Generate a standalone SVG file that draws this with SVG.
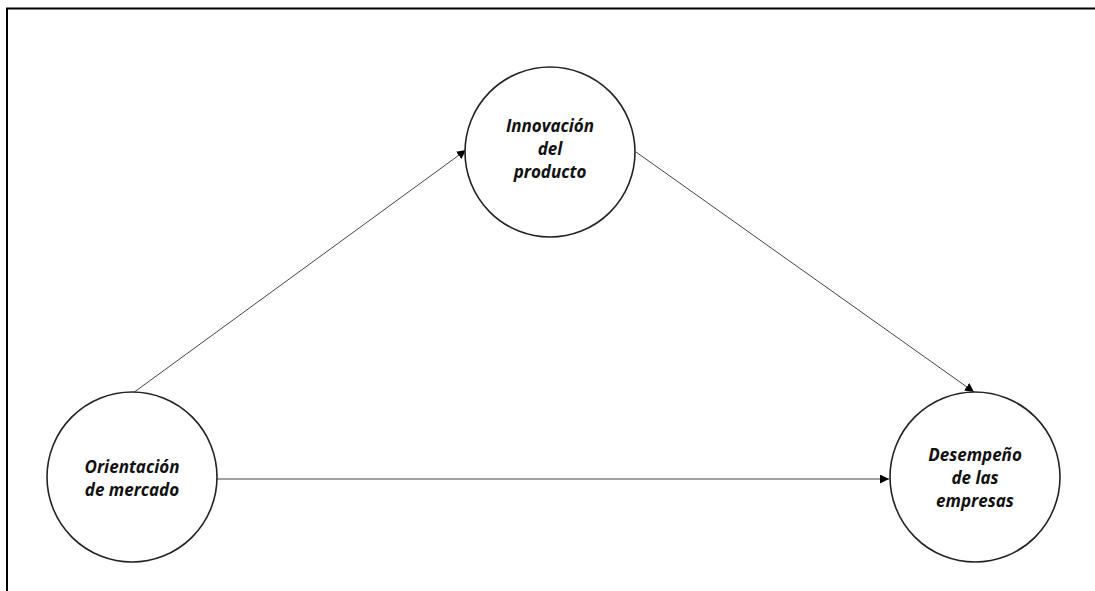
<svg xmlns="http://www.w3.org/2000/svg" width="1095" height="591" viewBox="0 0 1095 591">
  <defs>
    <marker id="arrow" viewBox="0 0 10 10" refX="10" refY="5" markerWidth="9" markerHeight="9" markerUnits="userSpaceOnUse" orient="auto">
      <path d="M0,0 L10,5 L0,10 z" fill="#000"/>
    </marker>
    <style>
      .frame { stroke: #000; stroke-width: 2; fill: none; }
      .node circle { fill: #fff; stroke: #222; stroke-width: 1.6; }
      .node text { font-family: "Open Sans", "Liberation Sans", sans-serif; font-size: 17px; font-weight: bold; font-style: italic; fill: #111; text-anchor: middle; }
      .edge { stroke: #444; stroke-width: 1; fill: none; marker-end: url(#arrow); }
    </style>
  </defs>

  <rect width="1095" height="591" fill="#fff"/>
  <!-- outer frame: top and left rules -->
  <path class="frame" d="M7,591 L7,8.5 L1095,8.5"/>

  <g id="connectors">
    <line class="edge" x1="133" y1="393" x2="466" y2="150"/>
    <line class="edge" x1="636" y1="152" x2="974" y2="392"/>
    <line class="edge" x1="217" y1="479" x2="889" y2="479"/>
  </g>

  <g id="innovacion" class="node">
    <circle cx="550" cy="152" r="85"/>
    <text x="550" y="132">Innovación</text>
    <text x="550" y="155">del</text>
    <text x="550" y="178">producto</text>
  </g>

  <g id="orientacion" class="node">
    <circle cx="132" cy="477" r="85"/>
    <text x="132" y="473">Orientación</text>
    <text x="132" y="496">de mercado</text>
  </g>

  <g id="desempeno" class="node">
    <circle cx="975" cy="477" r="85"/>
    <text x="975" y="461">Desempeño</text>
    <text x="975" y="484">de las</text>
    <text x="975" y="507">empresas</text>
  </g>
</svg>
